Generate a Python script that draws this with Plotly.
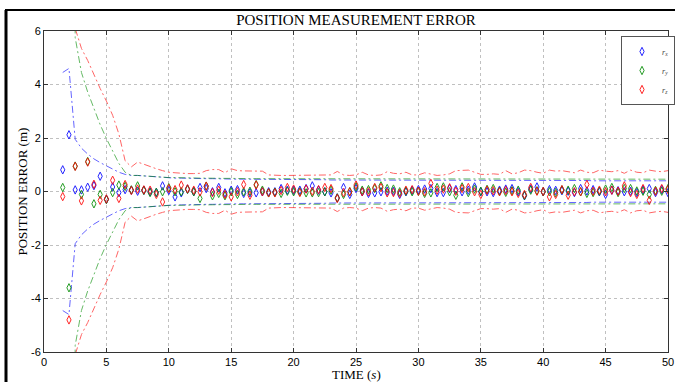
import plotly.graph_objects as go

time_s = [1.5, 2.0, 2.5, 3.0, 3.5, 4.0, 4.5, 5.0, 5.5, 6.0, 6.5, 7.0, 7.5, 8.0, 8.5, 9.0, 9.5, 10.0,
          10.5, 11.0, 11.5, 12.0, 12.5, 13.0, 13.5, 14.0, 14.5, 15.0, 15.5, 16.0, 16.5, 17.0, 17.5, 18.0,
          18.5, 19.0, 19.5, 20.0, 20.5, 21.0, 21.5, 22.0, 22.5, 23.0, 23.5, 24.0, 24.5, 25.0, 25.5, 26.0,
          26.5, 27.0, 27.5, 28.0, 28.5, 29.0, 29.5, 30.0, 30.5, 31.0, 31.5, 32.0, 32.5, 33.0, 33.5, 34.0,
          34.5, 35.0, 35.5, 36.0, 36.5, 37.0, 37.5, 38.0, 38.5, 39.0, 39.5, 40.0, 40.5, 41.0, 41.5, 42.0,
          42.5, 43.0, 43.5, 44.0, 44.5, 45.0, 45.5, 46.0, 46.5, 47.0, 47.5, 48.0, 48.5, 49.0, 49.5, 50.0]

err_rx = [0.81, 2.12, 0.06, 0.06, 0.16, 0.22, 0.57, -0.29, 0.17, -0.04, 0.07, 0.05, 0.01, 0.05, -0.01, -0.04, 0.21, 0.04,
          -0.20, -0.05, 0.09, 0.00, 0.15, 0.11, -0.01, 0.15, -0.05, 0.05, 0.07, -0.07, -0.05, -0.05, -0.01, -0.01,
          -0.01, 0.11, 0.05, 0.05, 0.05, 0.11, 0.21, 0.05, -0.01, -0.05, -0.24, 0.15, -0.11, 0.11, -0.01, -0.07,
          -0.05, -0.01, 0.01, 0.01, -0.11, -0.01, 0.04, 0.07, 0.09, 0.11, -0.04, -0.04, 0.11, 0.07, -0.01, 0.05,
          0.17, -0.01, -0.01, -0.04, 0.05, 0.09, 0.11, -0.01, -0.16, 0.09, 0.17, -0.01, 0.07, 0.04, 0.03, 0.01,
          -0.04, 0.11, 0.02, 0.07, -0.01, -0.11, 0.05, 0.03, -0.01, 0.01, -0.04, 0.06, 0.11, -0.04, 0.07, -0.04]

err_ry = [0.15, -3.60, 0.95, -0.11, 1.12, -0.46, -0.11, -0.30, -0.04, 0.24, 0.19, 0.06, 0.21, 0.04, -0.04, -0.03, -0.01, 0.14,
          -0.01, -0.01, 0.08, -0.01, -0.26, 0.20, -0.16, -0.07, -0.16, -0.01, -0.11, -0.01, 0.01, 0.26, 0.05, -0.05,
          -0.03, -0.07, 0.01, -0.01, -0.01, -0.05, -0.05, -0.04, -0.01, 0.05, -0.24, -0.11, -0.01, 0.17, 0.05, 0.07,
          0.11, 0.21, 0.11, 0.09, -0.01, 0.01, -0.01, 0.01, -0.07, -0.05, 0.15, 0.17, -0.01, -0.14, 0.17, -0.04,
          0.09, 0.01, 0.08, 0.11, 0.01, -0.03, 0.03, 0.05, -0.15, 0.05, 0.03, -0.01, -0.01, -0.04, 0.06, 0.05,
          0.11, -0.01, -0.07, -0.04, 0.01, 0.09, 0.15, -0.04, 0.11, 0.11, 0.02, 0.01, -0.11, 0.04, 0.01, 0.11]

err_rz = [-0.19, -4.80, 0.94, -0.35, 1.10, 0.27, -0.33, -0.28, 0.42, -0.26, 0.26, 0.04, 0.09, 0.06, 0.05, -0.11, -0.39, 0.11,
          0.07, 0.24, 0.10, 0.05, -0.01, 0.20, -0.04, 0.05, -0.11, -0.20, -0.01, 0.26, -0.14, 0.24, -0.01, -0.05,
          -0.05, 0.04, 0.15, 0.09, -0.04, 0.09, 0.01, 0.07, 0.15, 0.11, -0.26, -0.04, -0.01, 0.24, -0.01, -0.01,
          0.15, 0.15, -0.05, -0.04, -0.07, 0.05, 0.07, 0.01, -0.01, 0.30, 0.05, 0.09, 0.14, 0.01, 0.11, 0.15,
          -0.01, -0.11, 0.05, 0.03, -0.01, 0.04, -0.01, -0.07, -0.11, 0.15, 0.01, 0.00, -0.20, -0.11, 0.07, -0.14,
          -0.01, -0.01, 0.26, 0.01, 0.05, -0.01, 0.05, 0.01, 0.21, -0.04, -0.11, 0.11, -0.33, 0.01, 0.11, 0.07]

# 1-sigma style bounds (plotted as +/- bound)
bound_rx = [4.45, 4.60, 1.95, 1.62, 1.40, 1.22, 1.08, 0.95, 0.82, 0.72, 0.64, 0.60, 0.60, 0.58, 0.56, 0.54, 0.52, 0.51,
            0.50, 0.50, 0.49, 0.49, 0.48, 0.48, 0.48, 0.47, 0.47, 0.47, 0.46, 0.46, 0.46, 0.46, 0.45, 0.45,
            0.45, 0.45, 0.45, 0.44, 0.44, 0.44, 0.44, 0.44, 0.44, 0.43, 0.43, 0.43, 0.43, 0.43, 0.43, 0.43,
            0.43, 0.43, 0.42, 0.42, 0.42, 0.42, 0.42, 0.42, 0.42, 0.42, 0.42, 0.42, 0.42, 0.42, 0.42, 0.41,
            0.41, 0.41, 0.41, 0.41, 0.41, 0.41, 0.41, 0.41, 0.41, 0.41, 0.41, 0.41, 0.41, 0.41, 0.41, 0.41,
            0.41, 0.41, 0.41, 0.40, 0.40, 0.40, 0.40, 0.40, 0.40, 0.40, 0.40, 0.40, 0.40, 0.40, 0.40, 0.40]

bound_ry = [60.0, 45.0, 5.75, 4.45, 3.72, 3.10, 2.50, 1.98, 1.50, 1.05, 0.72, 0.60, 0.60, 0.58, 0.57, 0.55, 0.53, 0.52,
            0.52, 0.51, 0.51, 0.50, 0.50, 0.50, 0.49, 0.49, 0.49, 0.49, 0.48, 0.48, 0.48, 0.48, 0.48, 0.47,
            0.47, 0.47, 0.47, 0.47, 0.47, 0.47, 0.46, 0.46, 0.46, 0.46, 0.46, 0.46, 0.46, 0.46, 0.46, 0.46,
            0.46, 0.46, 0.46, 0.46, 0.46, 0.46, 0.46, 0.46, 0.46, 0.46, 0.46, 0.46, 0.46, 0.46, 0.46, 0.46,
            0.46, 0.46, 0.46, 0.46, 0.46, 0.46, 0.46, 0.46, 0.46, 0.46, 0.46, 0.46, 0.46, 0.46, 0.46, 0.46,
            0.46, 0.46, 0.46, 0.46, 0.46, 0.46, 0.46, 0.46, 0.46, 0.46, 0.46, 0.46, 0.46, 0.46, 0.46, 0.46]

bound_rz = [70.0, 50.0, 6.10, 5.35, 4.90, 4.35, 3.85, 3.38, 2.85, 2.15, 1.15, 0.92, 1.10, 1.02, 0.92, 0.85, 0.78, 0.72,
            0.70, 0.68, 0.67, 0.67, 0.68, 0.78, 0.82, 0.82, 0.70, 0.85, 0.78, 0.77, 0.77, 0.77, 0.76, 0.62,
            0.60, 0.60, 0.60, 0.60, 0.60, 0.60, 0.60, 0.60, 0.62, 0.62, 0.75, 0.62, 0.60, 0.62, 0.72, 0.62,
            0.60, 0.62, 0.74, 0.68, 0.66, 0.72, 0.62, 0.62, 0.70, 0.64, 0.60, 0.62, 0.66, 0.78, 0.80, 0.80,
            0.72, 0.64, 0.64, 0.66, 0.64, 0.78, 0.66, 0.70, 0.80, 0.78, 0.72, 0.68, 0.80, 0.76, 0.78, 0.74,
            0.70, 0.80, 0.72, 0.70, 0.80, 0.76, 0.74, 0.78, 0.68, 0.80, 0.72, 0.70, 0.80, 0.76, 0.74, 0.78]

series_names = ["<i>r</i><sub><i>x</i></sub>", "<i>r</i><sub><i>y</i></sub>", "<i>r</i><sub><i>z</i></sub>"]
series_colors = ["rgb(0,0,255)", "rgb(0,140,0)", "rgb(255,0,0)"]
x_ticks = [0, 5, 10, 15, 20, 25, 30, 35, 40, 45, 50]
y_ticks = [-6, -4, -2, 0, 2, 4, 6]

errs = [err_rx, err_ry, err_rz]
bounds = [bound_rx, bound_ry, bound_rz]

fig = go.Figure()

dash = "7px,3px,2px,3px"
for b, c in zip(bounds, series_colors):
    fig.add_trace(go.Scatter(x=time_s, y=b, mode="lines", showlegend=False, hoverinfo="skip",
                             line=dict(color=c, width=1, dash=dash), opacity=0.6))
    fig.add_trace(go.Scatter(x=time_s, y=[-v for v in b], mode="lines", showlegend=False, hoverinfo="skip",
                             line=dict(color=c, width=1, dash=dash), opacity=0.6))

for e, c, n in zip(errs, series_colors, series_names):
    fig.add_trace(go.Scatter(x=time_s, y=e, mode="markers", name=n, opacity=0.85,
                             marker=dict(symbol="diamond-tall-open", size=6, color=c, line=dict(width=1, color=c))))

L, R, T, B = 44, 7, 31, 30
W, H = 675, 382
pw, ph = W - L - R, H - T - B

def px_x(p):
    return (p - L) / pw

def px_y(p):
    return (H - B - p) / ph

axis_common = dict(showline=True, linecolor="#333", linewidth=1, mirror="ticks", ticks="inside",
                   ticklen=4, tickcolor="#333", showgrid=True, gridcolor="#c0c0c0", griddash="dot",
                   gridwidth=1, zeroline=False,
                   tickfont=dict(family="Liberation Sans, Arial, sans-serif", size=11, color="black"))

fig.update_layout(
    width=W, height=H,
    margin=dict(l=L, r=R, t=T, b=B, autoexpand=False),
    paper_bgcolor="white", plot_bgcolor="white",
    title=dict(text="POSITION MEASUREMENT ERROR", x=356 / W, xanchor="center",
               y=1 - 20 / H, yanchor="middle",
               font=dict(family="Liberation Serif, Times New Roman, serif", size=15, color="black")),
    xaxis=dict(range=[0, 50], tickvals=x_ticks, ticktext=[str(v) for v in x_ticks], **axis_common),
    yaxis=dict(range=[-6, 6], tickvals=y_ticks, ticktext=[str(v) for v in y_ticks], **axis_common),
    legend=dict(x=px_x(621), y=px_y(36), xanchor="left", yanchor="top", bgcolor="white",
                bordercolor="#555", borderwidth=1, tracegroupgap=0,
                font=dict(family="Liberation Serif, serif", size=8, color="#444"),
                itemwidth=30),
    showlegend=True,
    annotations=[
        dict(text="TIME (<i>s</i>)", x=0.5, y=px_y(374), xref="paper", yref="paper",
             showarrow=False, xanchor="center", yanchor="middle",
             font=dict(family="Liberation Serif, Times New Roman, serif", size=13, color="black")),
        dict(text="POSITION ERROR (m)", x=px_x(22), y=0.5, xref="paper", yref="paper",
             showarrow=False, textangle=-90, xanchor="center", yanchor="middle",
             font=dict(family="Liberation Serif, Times New Roman, serif", size=13, color="black")),
    ],
    shapes=[
        dict(type="line", xref="paper", yref="paper", x0=px_x(5), x1=px_x(676), y0=px_y(10), y1=px_y(10),
             line=dict(color="black", width=2)),
        dict(type="line", xref="paper", yref="paper", x0=px_x(6), x1=px_x(6), y0=px_y(10), y1=px_y(383),
             line=dict(color="black", width=3)),
    ],
)

fig.write_html("out.html")
